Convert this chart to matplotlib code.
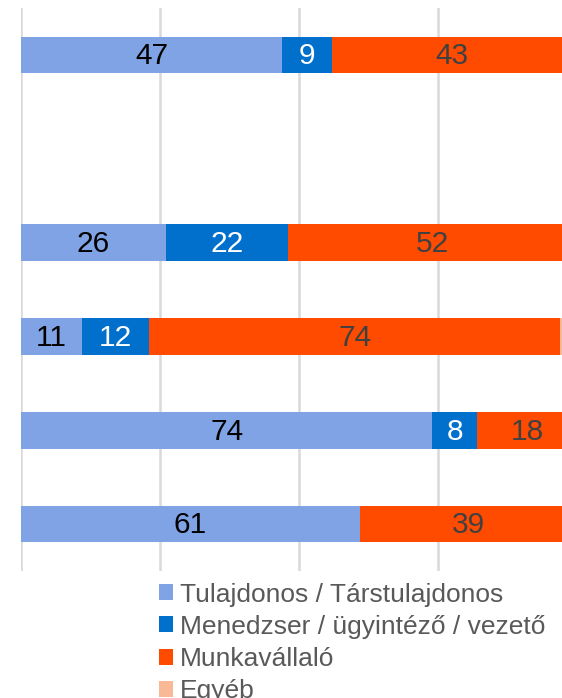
import matplotlib
matplotlib.use('Agg')
import matplotlib.pyplot as plt
from matplotlib.patches import Patch
import numpy as np

plt.rcParams['font.family'] = ['Liberation Sans', 'DejaVu Sans']

# rows from top to bottom (second row has no data)
rows = ['1', '2', '3', '4', '5', '6']
tulajdonos = [47, 0, 26, 11, 74, 61]
menedzser = [9, 0, 22, 12, 8, 0]
munkavallalo = [43, 0, 52, 74, 18, 39]
egyeb = [1, 0, 0, 3, 0, 0]

series_names = ['Tulajdonos / Társtulajdonos', 'Menedzser / ügyintéző / vezető',
                'Munkavállaló', 'Egyéb']
colors = ['#7FA3E4', '#0070CC', '#FF4B00', '#F9B896']
text_colors = ['black', 'white', '#404040', '#404040']

fig = plt.figure(figsize=(5.62, 6.98), dpi=100)
ax = fig.add_axes([21 / 562, (698 - 571) / 698, 556 / 562, 563 / 698])

y = np.arange(len(rows))
left = np.zeros(len(rows))
for vals, col, tcol in zip([tulajdonos, menedzser, munkavallalo, egyeb], colors, text_colors):
    vals = np.array(vals, dtype=float)
    ax.barh(y, vals, left=left, height=0.39, color=col, zorder=3)
    for yi, (l, v) in enumerate(zip(left, vals)):
        if v >= 5:
            ax.text(l + v / 2, yi + 0.015, f'{int(v)}', ha='center', va='center',
                    fontsize=21.5, color=tcol, zorder=4)
    left += vals

ax.set_xlim(0, 100)
ax.set_ylim(len(rows) - 0.5, -0.5)
ax.set_xticks([0, 25, 50, 75, 100])
ax.set_yticks([])
ax.xaxis.grid(True, color='#D9D9D9', linewidth=1.8, zorder=0)
ax.tick_params(axis='x', length=0, labelbottom=False)
for s in ax.spines.values():
    s.set_visible(False)

handles = [Patch(facecolor=c, edgecolor='none') for c in colors]
fig.legend(handles, series_names, loc='upper left', bbox_to_anchor=(148 / 562, 1 - 572 / 698),
           frameon=False, fontsize=19, labelcolor='#595959', handlelength=0.55,
           handleheight=0.55, handletextpad=0.25, labelspacing=0.31, borderaxespad=0)

fig.savefig('out.png', dpi=100)
